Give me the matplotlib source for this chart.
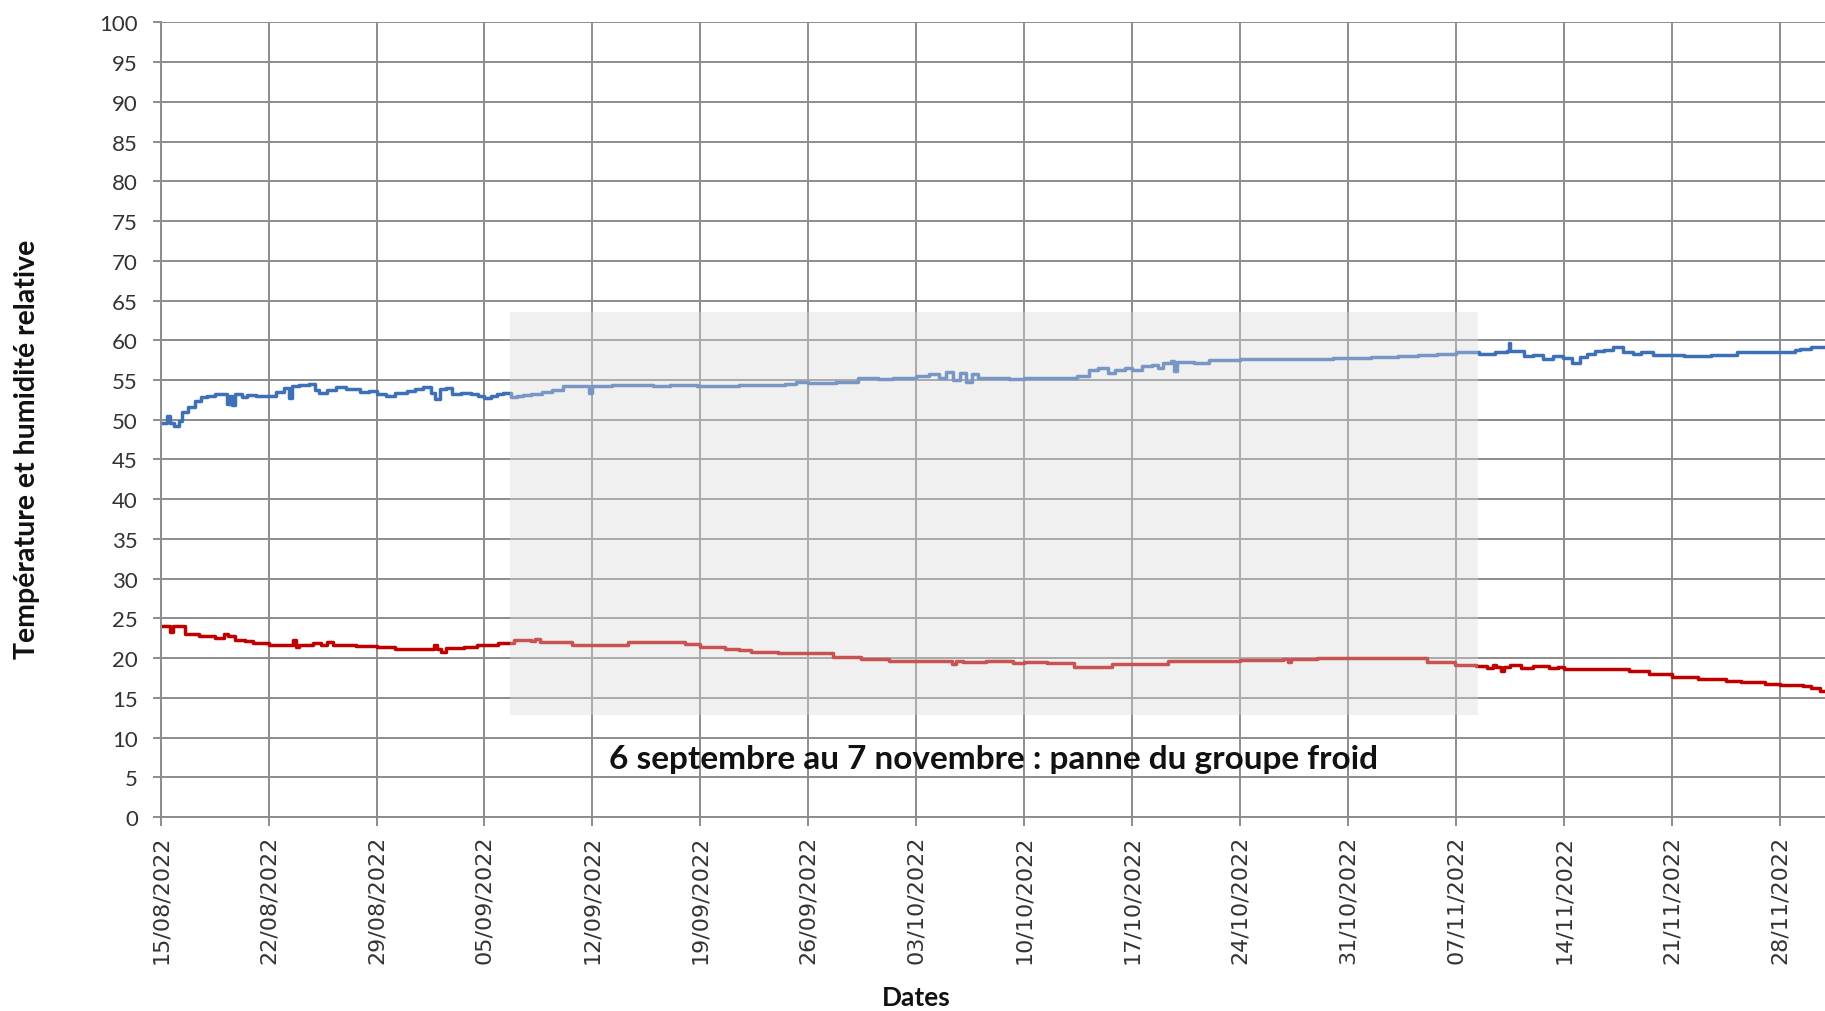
import matplotlib.pyplot as plt
import matplotlib.dates as mdates
from matplotlib.patches import Rectangle
import pandas as pd

start = pd.Timestamp('2022-08-15')

# humidite relative (%) : jours depuis le 15/08/2022, valeurs
hum_days = [0, 0.4, 0.6, 0.9, 1.2, 1.4, 1.8, 2.2, 2.6, 3.0, 3.5, 4.0, 4.3, 4.5, 4.6, 4.8, 5.3, 5.6, 6.2, 7.0,
            7.5, 8.0, 8.3, 8.5, 9.0, 9.6, 10.0, 10.3, 10.8, 11.4, 12.0, 12.9, 13.5, 14.0, 14.6, 15.2, 16.0, 16.5,
            17.0, 17.5, 17.8, 18.1, 18.5, 18.9, 19.5, 20.1, 20.6, 21.0, 21.4, 21.8, 22.2, 22.7, 23.1, 23.5, 24.0,
            24.7, 25.4, 26.1, 27.0, 27.6, 27.8, 28.0, 29.3, 30.5, 31.9, 33.0, 34.8, 36.0, 37.5, 39.2, 40.5, 41.2,
            42.0, 43.8, 45.2, 46.5, 47.5, 49.0, 49.8, 50.5, 50.9, 51.4, 51.8, 52.2, 52.6, 53.0, 54.0, 55.0, 56.0,
            57.0, 58.0, 59.4, 60.2, 60.8, 61.4, 61.9, 62.5, 63.0, 63.6, 64.25, 64.7, 65.0, 65.5, 65.7, 65.9, 67.0,
            68.0, 68.75, 70.0, 71.6, 73.0, 74.6, 76.0, 77.0, 78.5, 80.25, 81.5, 82.75, 84.0, 85.0, 85.5, 86.5,
            87.3, 87.4, 87.5, 88.4, 89.0, 89.6, 90.3, 90.9, 91.5, 92.0, 92.5, 93.0, 93.6, 94.2, 94.8, 95.5, 96.0,
            96.75, 98.0, 98.8, 100.5, 102.2, 104.0, 105.0, 106.0, 106.3, 107.0, 108.0]
hum = [49.6, 50.5, 49.6, 49.2, 49.8, 51.0, 51.6, 52.3, 52.8, 53.0, 53.2, 53.3, 52.0, 53.0, 51.9, 53.2, 52.9, 53.1,
       53.0, 53.0, 53.5, 54.0, 52.7, 54.2, 54.4, 54.5, 53.8, 53.4, 53.8, 54.1, 53.9, 53.5, 53.6, 53.3, 53.0, 53.4,
       53.6, 53.9, 54.1, 53.4, 52.6, 53.9, 54.0, 53.3, 53.4, 53.3, 53.0, 52.7, 53.0, 53.3, 53.4, 52.9, 53.0, 53.1,
       53.3, 53.5, 53.8, 54.2, 54.3, 54.2, 53.4, 54.3, 54.4, 54.4, 54.3, 54.4, 54.3, 54.3, 54.4, 54.4, 54.5, 54.8,
       54.6, 54.7, 55.2, 55.1, 55.3, 55.5, 55.7, 55.2, 56.0, 55.0, 55.9, 54.8, 55.7, 55.2, 55.3, 55.1, 55.2, 55.3,
       55.2, 55.5, 56.3, 56.5, 55.9, 56.2, 56.5, 56.3, 56.7, 56.9, 56.5, 57.2, 57.4, 56.1, 57.3, 57.2, 57.5, 57.5,
       57.7, 57.7, 57.6, 57.6, 57.8, 57.8, 57.9, 58.0, 58.1, 58.25, 58.5, 58.5, 58.3, 58.5, 58.7, 59.7, 58.6, 58.0,
       58.2, 57.6, 58.0, 57.8, 57.2, 57.9, 58.3, 58.7, 58.8, 59.1, 58.5, 58.3, 58.5, 58.1, 58.1, 58.0, 58.1, 58.5,
       58.5, 58.5, 58.8, 58.9, 59.1, 59.1]

# temperature (degres C)
temp_days = [0, 0.5, 0.6, 0.8, 1.3, 1.6, 2.5, 3.5, 3.9, 4.1, 4.4, 4.8, 5.5, 6.0, 7.0, 8.0, 8.6, 8.8, 9.0, 9.9,
             10.4, 10.8, 11.2, 12.0, 12.7, 14.0, 15.2, 16.5, 17.3, 17.7, 17.9, 18.2, 18.5, 19.0, 19.7, 20.5, 21.0,
             21.9, 22.9, 23.5, 24.0, 24.3, 24.6, 25.5, 26.7, 27.9, 29.0, 30.3, 31.5, 33.0, 34.0, 35.0, 36.6, 37.5,
             38.3, 40.0, 42.0, 43.6, 45.4, 47.2, 49.0, 50.8, 51.3, 51.6, 52.0, 53.5, 55.3, 56.0, 57.5, 59.2, 61.4,
             61.7, 63.0, 65.3, 67.5, 70.0, 72.8, 73.1, 73.3, 75.0, 77.0, 80.4, 82.1, 83.9, 85.3, 86.0, 86.4, 86.6,
             86.9, 87.1, 87.5, 88.2, 89.0, 90.0, 90.6, 91.0, 92.9, 95.2, 96.5, 98.0, 99.7, 101.5, 102.5, 104.0,
             105.0, 106.5, 107.0, 107.6, 108.0]
temp = [24.1, 24.1, 23.3, 24.1, 24.0, 23.1, 22.8, 22.6, 22.5, 23.0, 22.8, 22.3, 22.2, 21.9, 21.7, 21.7, 22.3, 21.4,
        21.7, 21.9, 21.7, 22.0, 21.7, 21.6, 21.5, 21.4, 21.1, 21.1, 21.2, 21.7, 21.2, 20.8, 21.3, 21.3, 21.4, 21.6,
        21.7, 21.9, 22.3, 22.3, 22.2, 22.4, 22.1, 22.0, 21.7, 21.6, 21.7, 22.0, 22.0, 22.0, 21.8, 21.4, 21.1, 21.0,
        20.8, 20.7, 20.6, 20.2, 19.9, 19.6, 19.6, 19.6, 19.3, 19.7, 19.5, 19.7, 19.4, 19.5, 19.4, 18.9, 18.9, 19.3,
        19.3, 19.7, 19.7, 19.75, 19.9, 19.5, 19.9, 20.0, 20.0, 20.0, 19.5, 19.1, 19.0, 18.8, 19.2, 18.9, 18.4, 18.9,
        19.1, 18.8, 19.0, 18.8, 18.9, 18.6, 18.6, 18.4, 18.0, 17.6, 17.35, 17.1, 17.0, 16.7, 16.6, 16.5, 16.3, 15.9,
        15.8]

week_ticks = pd.date_range('2022-08-15', '2022-11-28', freq='7D')
panne_debut = pd.Timestamp('2022-09-06 15:00')
panne_fin = pd.Timestamp('2022-11-08 09:30')
note = '6 septembre au 7 novembre : panne du groupe froid'

hum_t = start + pd.to_timedelta(hum_days, unit='D')
temp_t = start + pd.to_timedelta(temp_days, unit='D')

grid_col = '#8c8c8c'

fig = plt.figure(figsize=(18.25, 10.12), dpi=100)
ax = fig.add_axes([0.088, 0.1915, 0.912, 0.7855])

ax.plot(hum_t, hum, color='#3e70b8', lw=2.5, drawstyle='steps-post', zorder=2)
ax.plot(temp_t, temp, color='#c00000', lw=2.5, drawstyle='steps-post', zorder=2)

# zone grisee par dessus les courbes
x0 = mdates.date2num(panne_debut)
x1 = mdates.date2num(panne_fin)
ax.add_patch(Rectangle((x0, 12.8), x1 - x0, 63.5 - 12.8, facecolor='#d9d9d9',
                       alpha=0.38, edgecolor='none', zorder=3))
mid = panne_debut + (panne_fin - panne_debut) / 2
ax.text(mid, 6.2, note, ha='center', va='baseline', fontsize=24, fontweight='bold',
        family='Lato', color='#111111', zorder=4)

ax.set_ylim(0, 100)
ax.set_yticks(range(0, 101, 5))
ax.set_xlim(mdates.date2num(start), mdates.date2num(pd.Timestamp('2022-11-30 22:00')))
ax.set_xticks(week_ticks)
ax.xaxis.set_major_formatter(mdates.DateFormatter('%d/%m/%Y'))

ax.grid(True, color=grid_col, lw=1.4)
ax.set_axisbelow(True)
for s in ['top', 'right']:
    ax.spines[s].set_visible(False)
for s in ['left', 'bottom']:
    ax.spines[s].set_color(grid_col)
    ax.spines[s].set_linewidth(1.4)

ax.tick_params(axis='y', length=5.8, width=1.4, color=grid_col, pad=10.5, labelsize=16, labelcolor='#333333')
ax.tick_params(axis='x', length=6.5, width=1.4, color=grid_col, pad=6, labelsize=16, labelcolor='#333333',
               labelrotation=90)
for lab in ax.get_yticklabels():
    lab.set_family('Lato')

fig.text(0.0148, 0.556, 'Température et humidité relative', rotation=90, ha='center', va='center',
         fontsize=20.5, fontweight='bold', family='Lato', color='#111111')
fig.text(0.502, 0.0138, 'Dates', ha='center', va='center', fontsize=19, fontweight='bold',
         family='Lato', color='#111111')

fig.savefig('out.png', dpi=100)
